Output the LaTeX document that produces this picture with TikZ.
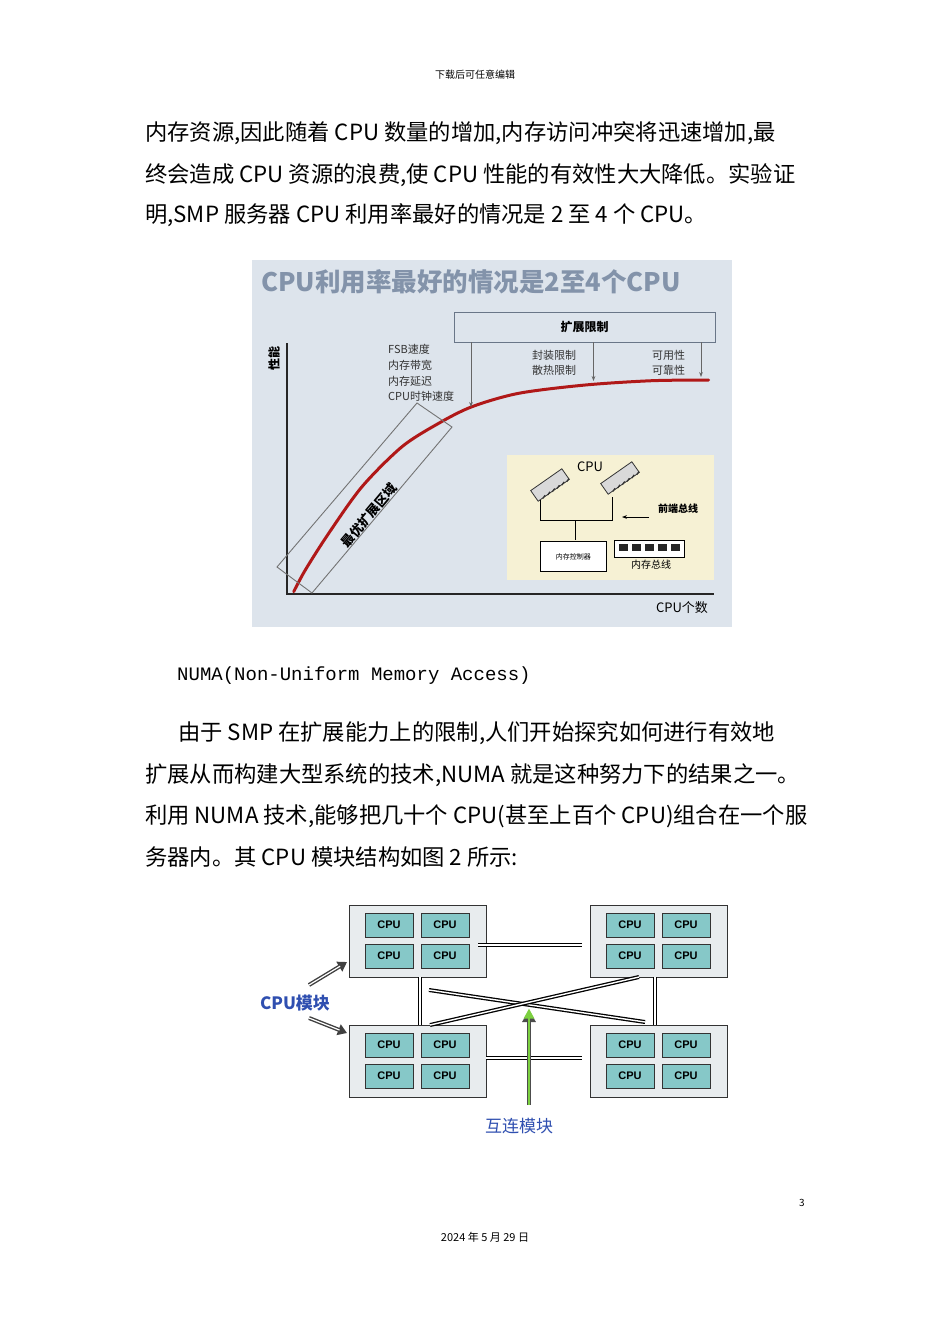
\documentclass[tikz,border=0pt]{standalone}
\usepackage{fontspec}
\setmainfont{Noto Sans CJK SC}
\newfontfamily\monof{Liberation Mono}
\newfontfamily\sansf{Liberation Sans}
\usetikzlibrary{arrows.meta,calc}
\definecolor{bgone}{HTML}{DDE4EC}
\definecolor{titlec}{HTML}{8393AA}
\definecolor{curvec}{HTML}{B01818}
\definecolor{insetc}{HTML}{F6F1D4}
\definecolor{cpuc}{HTML}{86C8C8}
\definecolor{modc}{HTML}{E8ECEE}
\definecolor{bluet}{HTML}{2F4FB0}
\definecolor{greenc}{HTML}{7CD040}
\tikzset{
 body/.style={anchor=west,font=\fontsize{22.3}{26}\selectfont,inner sep=0},
 lab/.style={font=\fontsize{11}{13}\selectfont,anchor=west,inner sep=0,text=black!80},
 cpubox/.style={draw=black!80,fill=cpuc,minimum width=48,minimum height=24,inner sep=0,font=\sansf\bfseries\fontsize{11}{12}\selectfont},
 modbox/.style={draw=black!80,fill=modc,line width=0.8pt},
 link/.style={draw=black,line width=4pt,postaction={draw=white,line width=1.4pt}},
 limarrow/.style={draw=black!60,line width=0.8pt,-{Stealth[length=5pt]}},
 chip/.style={draw=black!80,fill=black!15,minimum width=38,minimum height=13,rotate=35,inner sep=0,line width=0.8pt}
}
\begin{document}
\begin{tikzpicture}[x=1pt,y=-1pt]
\useasboundingbox[fill=white] (0,0) rectangle (950,1344);
\node (hdr) at (475,75) {\fontsize{10}{12}\selectfont 下载后可任意编辑};
\node[body] (l1) at (145,133) {内存资源,因此随着 CPU 数量的增加,内存访问冲突将迅速增加,最};
\node[body] (l2) at (145,175) {终会造成 CPU 资源的浪费,使 CPU 性能的有效性大大降低。实验证};
\node[body] (l3) at (145,215) {明,SMP 服务器 CPU 利用率最好的情况是 2 至 4 个 CPU。};
% figure 1
\fill[bgone] (252,260) rectangle (732,627);
\node[anchor=west,inner sep=0,text=titlec,font=\bfseries\fontsize{25.5}{27}\selectfont] (title) at (261,282) {CPU利用率最好的情况是2至4个CPU};
\node[draw=titlec!80!black,line width=0.9pt,minimum width=261,minimum height=30,inner sep=0,font=\bfseries\fontsize{12}{14}\selectfont] (lim) at (584.5,327) {扩展限制};
\draw[black!85,line width=1.3pt] (287,343) -- (287,594) -- (714,594);
\node[rotate=90,font=\bfseries\fontsize{12}{14}\selectfont] (yl) at (274,358) {性能};
\node[font=\fontsize{13}{15}\selectfont] (xl) at (682,608) {CPU个数};
\draw[curvec,line width=3pt,line cap=round] plot[smooth] coordinates {(293.7,591.7) (305.3,570) (328.7,533.3) (362,486.7) (402,446.7) (438.7,423.3) (472,406.7) (518.7,393.3) (585.3,385) (652,380.7) (708.7,380)};
\draw[black!55,line width=0.9pt] (277,567) -- (312,593) -- (452,427) -- (417,403) -- cycle;
\node[rotate=50,font=\bfseries\fontsize{13}{15}\selectfont] (opt) at (369,515) {最优扩展区域};
\node[lab] (f1) at (388,349) {FSB速度};
\node[lab] (f2) at (388,365) {内存带宽};
\node[lab] (f3) at (388,381) {内存延迟};
\node[lab] (f4) at (388,396) {CPU时钟速度};
\node[lab] (p1) at (532,355) {封装限制};
\node[lab] (p2) at (532,370) {散热限制};
\node[lab] (a1) at (652,355) {可用性};
\node[lab] (a2) at (652,370) {可靠性};
\coordinate (t1) at (471,407);
\coordinate (t2) at (593.5,381);
\coordinate (t3) at (701,377);
\draw[limarrow] (lim.south -| t1) -- (t1);
\draw[limarrow] (lim.south -| t2) -- (t2);
\draw[limarrow] (lim.south -| t3) -- (t3);
% inset
\fill[insetc] (507,455) rectangle (714,580);
\node[chip] (c1) at (550,485) {};
\node[chip] (c2) at (620,478) {};
\foreach \c in {c1,c2}{\foreach \t in {0.15,0.3,0.45,0.6,0.75,0.9}{\draw[black!80,line width=1.2pt] ($(\c.south west)!\t!(\c.south east)$) -- ++(-55:4);}}
\node[font=\fontsize{13}{15}\selectfont] (cpul) at (590,467) {CPU};
\draw[black,line width=0.9pt] (540,500) -- (540,520) -- (612,520) -- (612,497);
\draw[black,line width=0.9pt] (575,520) -- (575,540);
\node[draw=black,fill=white,line width=0.9pt,minimum width=66,minimum height=30,inner sep=0,anchor=north west,font=\fontsize{7}{8}\selectfont] (mc) at (540,541) {内存控制器};
\node[draw=black,fill=white,minimum width=70,minimum height=17,inner sep=0,anchor=north west] (mm) at (614,540) {};
\foreach \i in {0,...,4} \fill[black!85] (619+\i*13,544) rectangle (628+\i*13,551);
\node[font=\fontsize{10}{12}\selectfont] (mb) at (651,565) {内存总线};
\node[font=\bfseries\fontsize{10}{12}\selectfont] (fb) at (678,509) {前端总线};
\coordinate (fbe) at (622,517);
\draw[black,line width=0.8pt,-{Stealth[length=5pt]}] (649,517) -- (fbe);
% figure 2
\foreach \n/\x/\y in {m1/349/905,m2/590/905,m3/349/1025,m4/590/1025}{
 \draw[modbox] (\x,\y) rectangle ++(137,72);
 \node[cpubox] (\n a) at (\x+40,\y+20) {CPU};
 \node[cpubox] (\n b) at (\x+96,\y+20) {CPU};
 \node[cpubox] (\n c) at (\x+40,\y+51) {CPU};
 \node[cpubox] (\n d) at (\x+96,\y+51) {CPU};
}
\coordinate (h1a) at (478,945); \coordinate (h1b) at (582,945);
\coordinate (h2a) at (486,1058); \coordinate (h2b) at (582,1058);
\coordinate (v1a) at (420,977); \coordinate (v1b) at (420,1025);
\coordinate (v2a) at (655,977); \coordinate (v2b) at (655,1025);
\coordinate (x1a) at (429,990); \coordinate (x1b) at (645,1022);
\coordinate (x2a) at (430,1025); \coordinate (x2b) at (639,977);
\foreach \a/\b in {h1a/h1b,h2a/h2b,v1a/v1b,v2a/v2b,x1a/x1b,x2a/x2b} \path[link] (\a) -- (\b);
\coordinate (ga) at (529,1105); \coordinate (gb) at (529,1010);
\draw[black!70,line width=4.5pt,-{Triangle[length=12pt,width=13pt]}] (ga) -- (gb);
\draw[greenc,line width=2.6pt,-{Triangle[length=10pt,width=10pt]}] (ga) -- ([yshift=1.5pt]gb);
\node[text=bluet,font=\bfseries\fontsize{17}{19}\selectfont] (cm) at (295,1003) {CPU模块};
\coordinate (cm1) at (347,962); \coordinate (cm2) at (347,1033);
\draw[black!75,line width=4pt,-{Triangle[length=9pt,width=11pt]}] (309,985) -- (cm1);
\draw[black!75,line width=4pt,-{Triangle[length=9pt,width=11pt]}] (309,1018) -- (cm2);
\draw[white,line width=1.2pt,shorten >=8pt] (309,985) -- (cm1);
\draw[white,line width=1.2pt,shorten >=8pt] (309,1018) -- (cm2);
\node[text=bluet,font=\fontsize{17}{19}\selectfont] (hl) at (519,1126) {互连模块};
% paragraph
\node[anchor=west,inner sep=0,font=\monof\fontsize{19}{22}\selectfont] (numa) at (177,676) {NUMA(Non-Uniform Memory Access)};
\node[body] (q1) at (178,733) {由于 SMP 在扩展能力上的限制,人们开始探究如何进行有效地};
\node[body] (q2) at (145,775) {扩展从而构建大型系统的技术,NUMA 就是这种努力下的结果之一。};
\node[body] (q3) at (145,816) {利用 NUMA 技术,能够把几十个 CPU(甚至上百个 CPU)组合在一个服};
\node[body] (q4) at (145,857) {务器内。其 CPU 模块结构如图 2 所示:};
\node[font=\fontsize{10}{12}\selectfont] (pg) at (802,1203) {3};
\node[font=\fontsize{11}{13}\selectfont] (dt) at (485,1237) {2024 年 5 月 29 日};
\end{tikzpicture}
\end{document}
